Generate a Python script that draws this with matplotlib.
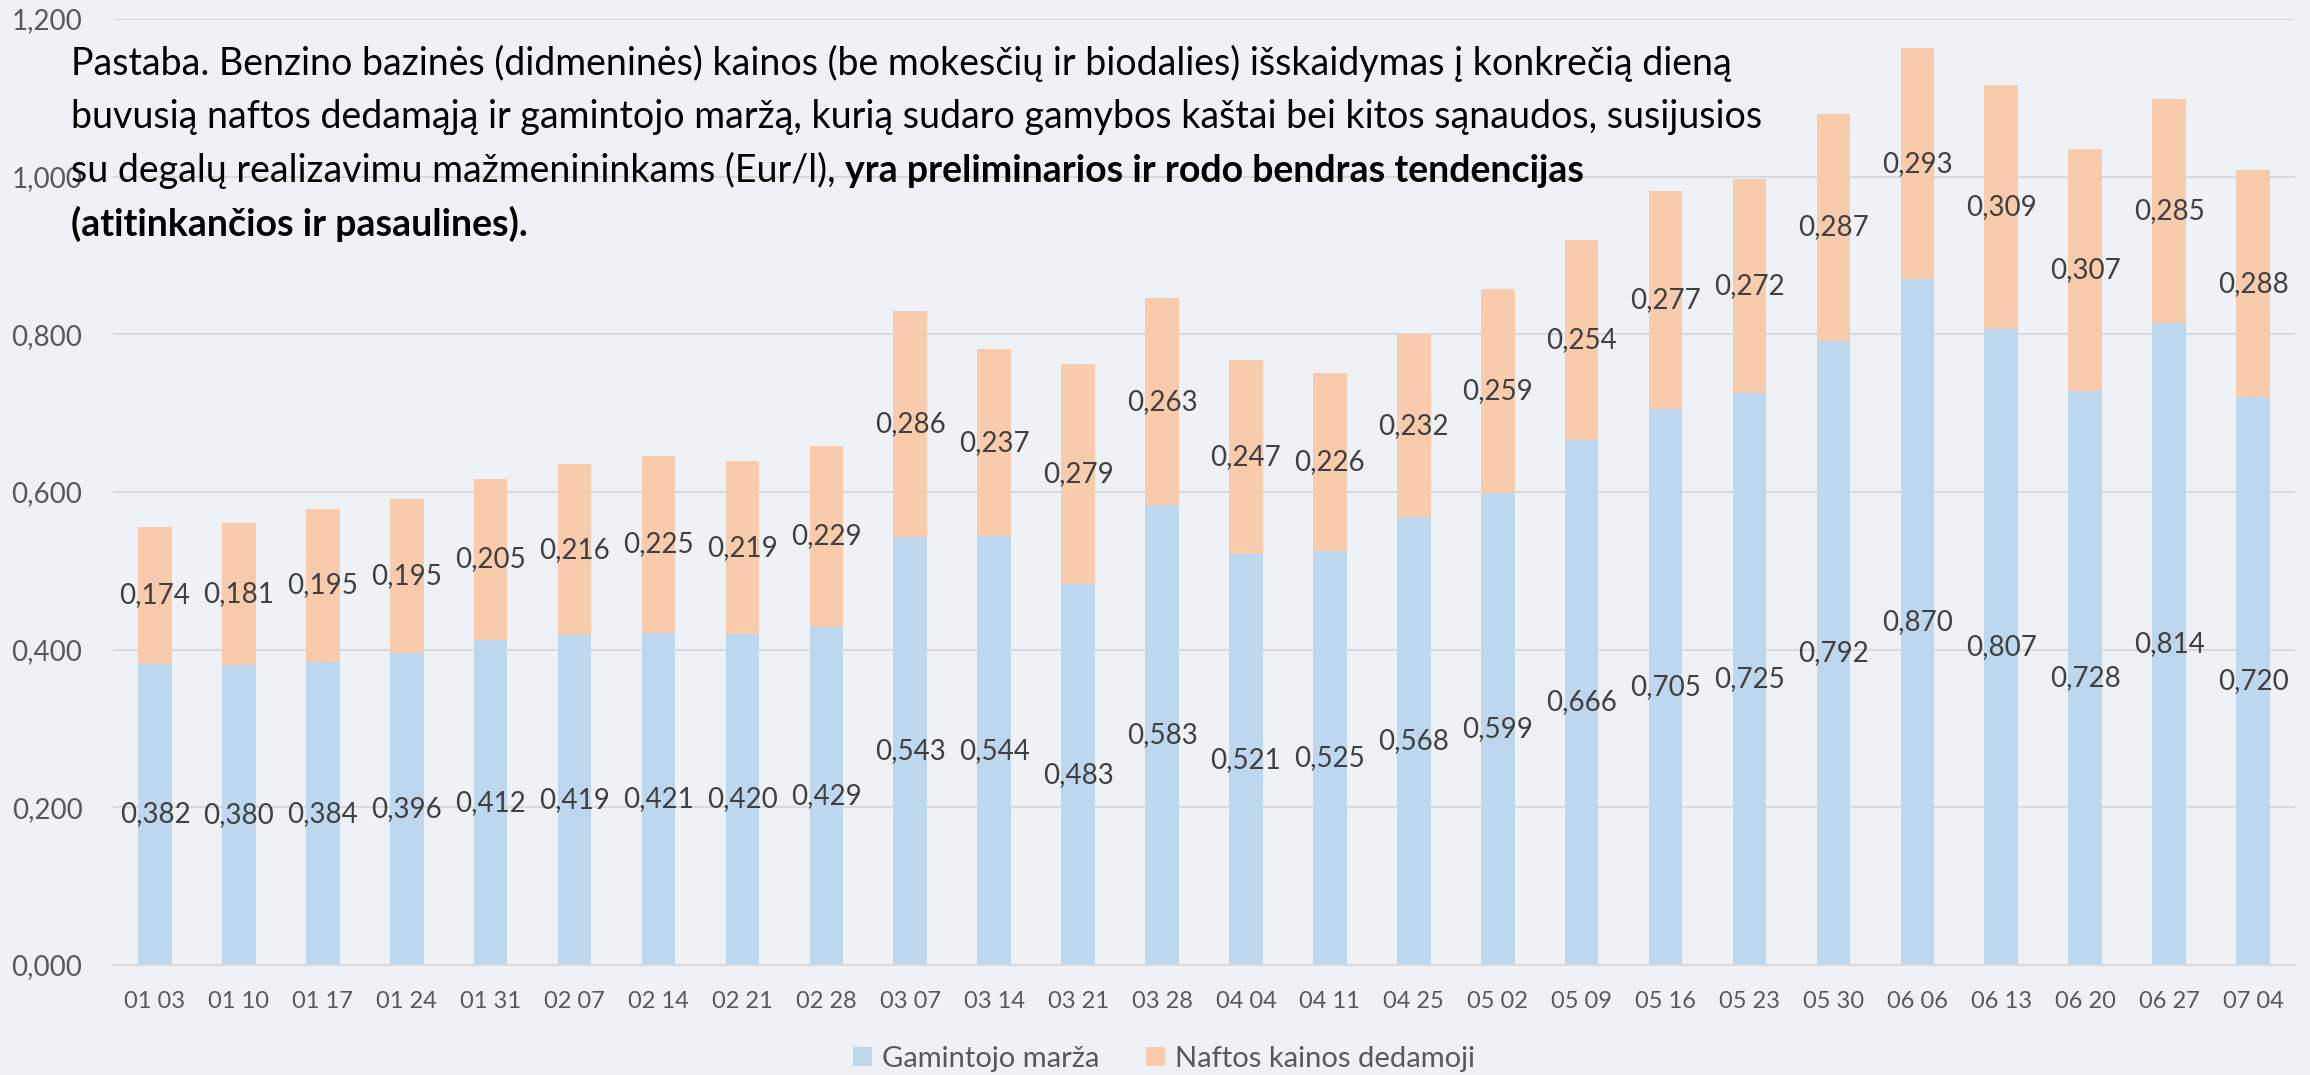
import numpy as np
import matplotlib
matplotlib.use('Agg')
import matplotlib.pyplot as plt
from matplotlib.patches import Patch

plt.rcParams['font.family'] = ['Lato', 'DejaVu Sans']

dates = ['01 03', '01 10', '01 17', '01 24', '01 31', '02 07', '02 14', '02 21', '02 28',
         '03 07', '03 14', '03 21', '03 28', '04 04', '04 11', '04 25', '05 02', '05 09',
         '05 16', '05 23', '05 30', '06 06', '06 13', '06 20', '06 27', '07 04']
marza = [0.382, 0.380, 0.384, 0.396, 0.412, 0.419, 0.421, 0.420, 0.429, 0.543, 0.544, 0.483,
         0.583, 0.521, 0.525, 0.568, 0.599, 0.666, 0.705, 0.725, 0.792, 0.870, 0.807, 0.728,
         0.814, 0.720]
nafta = [0.174, 0.181, 0.195, 0.195, 0.205, 0.216, 0.225, 0.219, 0.229, 0.286, 0.237, 0.279,
         0.263, 0.247, 0.226, 0.232, 0.259, 0.254, 0.277, 0.272, 0.287, 0.293, 0.309, 0.307,
         0.285, 0.288]
yticks = [0.0, 0.2, 0.4, 0.6, 0.8, 1.0, 1.2]

bg = '#eef2f6'
blue = '#bdd7ee'
orange = '#f8cbad'

W, H = 2310, 1075
fig = plt.figure(figsize=(W / 100, H / 100), dpi=100, facecolor=bg)
ax = fig.add_axes([113 / W, 1 - 965 / H, (2295 - 113) / W, (965 - 19) / H], facecolor=bg)

x = np.arange(len(dates))
ax.bar(x, marza, width=0.40, color=blue, zorder=2, label='Gamintojo marža')
ax.bar(x, nafta, width=0.40, bottom=marza, color=orange, zorder=2, label='Naftos kainos dedamoji')

def fmt(v):
    return ('%.3f' % v).replace('.', ',')

for i in range(len(dates)):
    ax.text(x[i], marza[i] / 2, fmt(marza[i]), ha='center', va='center',
            fontsize=20, color='#404040', zorder=3)
    ax.text(x[i], marza[i] + nafta[i] / 2, fmt(nafta[i]), ha='center', va='center',
            fontsize=20, color='#404040', zorder=3)

ax.set_xlim(-0.5, len(dates) - 0.5)
ax.set_ylim(0, 1.2)
ax.set_yticks(yticks)
ax.set_yticklabels([fmt(v) for v in yticks])
ax.set_xticks(x)
ax.set_xticklabels(dates)
ax.tick_params(axis='y', length=0, pad=22, labelsize=20, labelcolor='#595959')
ax.tick_params(axis='x', length=0, pad=19, labelsize=17, labelcolor='#595959')
ax.grid(axis='y', color='#d9d9d9', linewidth=1.5, zorder=0)
for s in ['top', 'right', 'left']:
    ax.spines[s].set_visible(False)
ax.spines['bottom'].set_color('#d9d9d9')
ax.spines['bottom'].set_linewidth(1.5)

handles = [Patch(facecolor=blue), Patch(facecolor=orange)]
fig.legend(handles, ['Gamintojo marža', 'Naftos kainos dedamoji'], loc='center',
           bbox_to_anchor=(0.504, 0.015), ncol=2, frameon=False, fontsize=21,
           labelcolor='#595959', handlelength=0.65, handleheight=0.65,
           handletextpad=0.35, columnspacing=1.6)

# note text
fs = 27
x0 = 71 / W
lines_y = [75, 128, 182, 236]
fig.text(x0, 1 - lines_y[0] / H,
         'Pastaba. Benzino bazinės (didmeninės) kainos (be mokesčių ir biodalies) išskaidymas į konkrečią dieną',
         fontsize=fs, va='baseline', color='black', zorder=10)
fig.text(x0, 1 - lines_y[1] / H,
         'buvusią naftos dedamąją ir gamintojo maržą, kurią sudaro gamybos kaštai bei kitos sąnaudos, susijusios',
         fontsize=fs, va='baseline', color='black', zorder=10)
t3 = fig.text(x0, 1 - lines_y[2] / H,
              'su degalų realizavimu mažmenininkams (Eur/l), ',
              fontsize=fs, va='baseline', color='black', zorder=10)
r = fig.canvas.get_renderer()
bb = t3.get_window_extent(renderer=r)
fig.text(bb.x1 / W, 1 - lines_y[2] / H,
         'yra preliminarios ir rodo bendras tendencijas',
         fontsize=fs, va='baseline', fontweight='bold', color='black', zorder=10)
fig.text(x0, 1 - lines_y[3] / H, '(atitinkančios ir pasaulines).',
         fontsize=fs, va='baseline', fontweight='bold', color='black', zorder=10)

fig.savefig('out.png', dpi=100, facecolor=bg)
